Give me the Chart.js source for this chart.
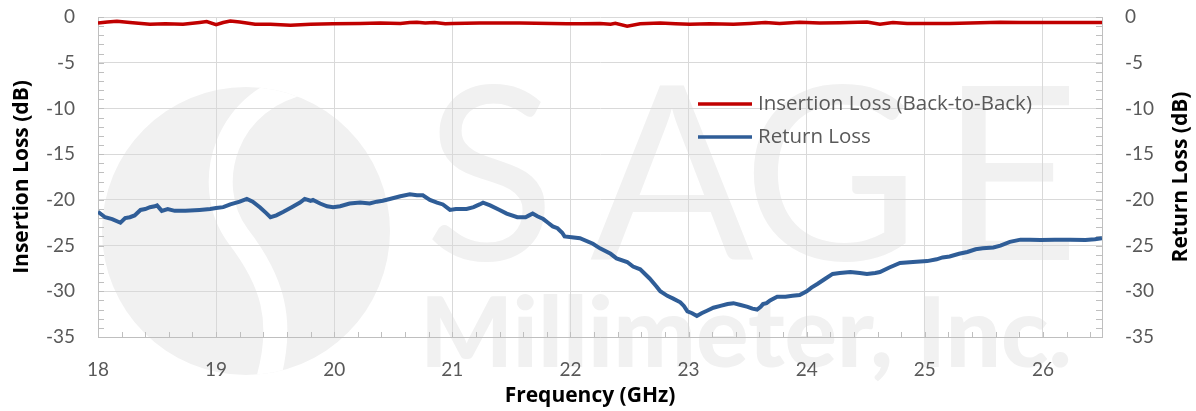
<!DOCTYPE html>
<html>
<head>
<meta charset="utf-8">
<script src="https://cdn.jsdelivr.net/npm/chart.js@4.4.1/dist/chart.umd.min.js"></script>
<style>
html,body{margin:0;padding:0;background:#fff;}
canvas{display:block;}
</style>
</head>
<body>
<canvas id="c" width="1196" height="411"></canvas>
<script>
// ---- data ----
const xTicks = [18, 19, 20, 21, 22, 23, 24, 25, 26];
const yTicks = [0, -5, -10, -15, -20, -25, -30, -35];
const seriesNames = ["Insertion Loss (Back-to-Back)", "Return Loss"];

const ilFreq = [18.00,18.08,18.16,18.27,18.44,18.57,18.72,18.86,18.92,19.00,19.06,19.12,19.20,19.33,19.46,19.63,19.80,19.99,20.22,20.39,20.56,20.64,20.70,20.77,20.85,20.94,21.00,21.23,21.57,21.97,22.10,22.25,22.34,22.38,22.48,22.59,22.76,22.89,23.01,23.18,23.38,23.52,23.65,23.77,23.94,24.11,24.28,24.51,24.62,24.73,24.85,25.00,25.21,25.47,25.64,25.81,26.15,26.50];
const ilVals = [-0.65,-0.55,-0.47,-0.6,-0.8,-0.75,-0.8,-0.6,-0.5,-0.83,-0.6,-0.44,-0.55,-0.8,-0.8,-0.9,-0.8,-0.73,-0.7,-0.66,-0.7,-0.6,-0.58,-0.65,-0.6,-0.75,-0.7,-0.66,-0.66,-0.73,-0.75,-0.7,-0.8,-0.7,-1.0,-0.75,-0.66,-0.75,-0.8,-0.75,-0.78,-0.7,-0.6,-0.72,-0.58,-0.66,-0.62,-0.55,-0.8,-0.6,-0.72,-0.7,-0.72,-0.62,-0.58,-0.6,-0.6,-0.6];

const rlFreq = [18.00,18.06,18.12,18.19,18.23,18.27,18.31,18.36,18.40,18.44,18.48,18.50,18.52,18.54,18.59,18.65,18.74,18.86,18.95,19.00,19.06,19.12,19.20,19.26,19.31,19.37,19.42,19.46,19.51,19.57,19.64,19.71,19.75,19.80,19.82,19.88,19.94,19.99,20.05,20.13,20.22,20.30,20.36,20.41,20.47,20.56,20.64,20.70,20.75,20.81,20.87,20.92,20.98,21.03,21.08,21.12,21.18,21.23,21.26,21.32,21.40,21.46,21.55,21.62,21.65,21.68,21.72,21.77,21.81,21.85,21.89,21.93,21.95,22.01,22.08,22.19,22.25,22.34,22.39,22.48,22.53,22.59,22.67,22.73,22.76,22.82,22.87,22.93,22.96,22.99,23.03,23.07,23.11,23.16,23.21,23.27,23.33,23.38,23.44,23.50,23.54,23.58,23.61,23.63,23.66,23.69,23.75,23.82,23.88,23.94,24.00,24.04,24.09,24.16,24.22,24.28,24.37,24.45,24.51,24.58,24.62,24.70,24.79,24.90,25.02,25.10,25.15,25.21,25.29,25.36,25.43,25.49,25.58,25.64,25.72,25.81,25.89,25.98,26.10,26.23,26.36,26.44,26.50];
const rlVals = [-21.3,-21.9,-22.1,-22.5,-22.0,-21.9,-21.7,-21.1,-21.0,-20.8,-20.7,-20.6,-20.9,-21.2,-21.0,-21.2,-21.2,-21.1,-21.0,-20.9,-20.8,-20.5,-20.2,-19.9,-20.2,-20.8,-21.4,-21.9,-21.7,-21.3,-20.8,-20.3,-19.9,-20.1,-20.0,-20.4,-20.7,-20.8,-20.7,-20.4,-20.3,-20.4,-20.2,-20.1,-19.9,-19.6,-19.4,-19.5,-19.5,-20.0,-20.3,-20.5,-21.1,-21.0,-21.0,-21.0,-20.8,-20.5,-20.3,-20.6,-21.1,-21.5,-21.9,-21.9,-21.7,-21.5,-21.8,-22.1,-22.5,-22.9,-23.1,-23.6,-24.0,-24.1,-24.2,-24.8,-25.3,-25.9,-26.4,-26.8,-27.3,-27.6,-28.6,-29.5,-30.0,-30.5,-30.8,-31.2,-31.6,-32.2,-32.4,-32.7,-32.4,-32.1,-31.8,-31.6,-31.4,-31.3,-31.5,-31.7,-31.9,-32.0,-31.7,-31.4,-31.3,-31.0,-30.6,-30.6,-30.5,-30.4,-30.0,-29.6,-29.2,-28.6,-28.1,-28.0,-27.9,-28.0,-28.1,-28.0,-27.9,-27.4,-26.9,-26.8,-26.7,-26.5,-26.3,-26.2,-25.9,-25.7,-25.4,-25.3,-25.2,-25.0,-24.6,-24.35,-24.35,-24.4,-24.35,-24.35,-24.4,-24.3,-24.2];

// ---- helpers ----
function pairs(xs, ys) {
  const n = Math.min(xs.length, ys.length), out = [];
  for (let i = 0; i < n; i++) out.push({x: xs[i], y: ys[i]});
  return out;
}
const TXT = '#595959', GRID = '#d9d9d9', AXIS = '#bfbfbf';
const RED = '#c00000', BLUE = '#2f5d97';
const FONT = 'Lato, "Open Sans", "DejaVu Sans", sans-serif';
const TFONT = '"Open Sans", Lato, "DejaVu Sans", sans-serif';

// watermark (SAGE Millimeter logo), drawn behind everything
const watermark = {
  id: 'watermark',
  beforeDraw(chart) {
    const ctx = chart.ctx;
    ctx.save();
    const wm = '#f1f1f1';
    ctx.beginPath();
    ctx.arc(246, 231, 144, 0, Math.PI * 2);
    ctx.fillStyle = wm;
    ctx.fill();
    ctx.save();
    ctx.beginPath();
    ctx.arc(246, 231, 144, 0, Math.PI * 2);
    ctx.clip();
    ctx.strokeStyle = '#ffffff';
    ctx.lineWidth = 24;
    ctx.beginPath();
    ctx.moveTo(310, 82);
    ctx.bezierCurveTo(225, 95, 200, 185, 238, 236);
    ctx.bezierCurveTo(272, 280, 285, 320, 268, 380);
    ctx.stroke();
    ctx.restore();
    ctx.fillStyle = wm;
    ctx.textAlign = 'center';
    ctx.textBaseline = 'alphabetic';
    ctx.font = '400 242px Lato, "DejaVu Sans", sans-serif';
    const letters = ['S', 'A', 'G', 'E'], cx = [490, 672, 831, 1010];
    letters.forEach((l, i) => ctx.fillText(l, cx[i], 260));
    ctx.textAlign = 'left';
    ctx.font = '900 98px Lato, "DejaVu Sans", sans-serif';
    ctx.fillText('Millimeter, Inc.', 420, 367, 662);
    ctx.restore();
  }
};

// minor ticks on the axes
const minorTicks = {
  id: 'minorTicks',
  beforeDatasetsDraw(chart) {
    const {ctx, chartArea: a, scales} = chart;
    ctx.save();
    ctx.strokeStyle = AXIS;
    ctx.lineWidth = 1;
    ctx.beginPath();
    for (let v = -35; v <= 0; v++) {
      const y = Math.round(scales.y.getPixelForValue(v)) + 0.5;
      ctx.moveTo(a.left, y); ctx.lineTo(a.left + 6, y);
      ctx.moveTo(a.right, y); ctx.lineTo(a.right - 6, y);
    }
    for (let k = 0; k <= 42; k++) {
      const v = 18 + k * 0.2;
      const x = Math.round(scales.x.getPixelForValue(v)) + 0.5;
      ctx.moveTo(x, a.bottom); ctx.lineTo(x, a.bottom - 5);
    }
    ctx.stroke();
    ctx.restore();
  }
};

// legend inside the plot + axis titles
const overlay = {
  id: 'overlay',
  afterDraw(chart) {
    const ctx = chart.ctx, a = chart.chartArea;
    ctx.save();
    const rows = [[seriesNames[0], RED, 104], [seriesNames[1], BLUE, 137]];
    ctx.font = '20.5px ' + TFONT;
    ctx.textAlign = 'left';
    ctx.textBaseline = 'middle';
    rows.forEach(([t, c, y]) => {
      ctx.strokeStyle = c; ctx.lineWidth = 3.5; ctx.lineCap = 'butt';
      ctx.beginPath(); ctx.moveTo(698, y); ctx.lineTo(752, y); ctx.stroke();
      ctx.fillStyle = TXT;
      ctx.fillText(t, 758, y);
    });
    ctx.fillStyle = '#000';
    ctx.font = 'bold 21px ' + TFONT;
    ctx.textAlign = 'center';
    ctx.textBaseline = 'middle';
    const cy = (a.top + a.bottom) / 2;
    ctx.save(); ctx.translate(22, cy); ctx.rotate(-Math.PI / 2);
    ctx.fillText('Insertion Loss (dB)', 0, 0); ctx.restore();
    ctx.save(); ctx.translate(1181, cy); ctx.rotate(-Math.PI / 2);
    ctx.fillText('Return Loss (dB)', 0, 0); ctx.restore();
    ctx.fillText('Frequency (GHz)', 590, 396);
    ctx.restore();
  }
};

const yCommon = {
  type: 'linear', min: -35, max: 0,
  afterBuildTicks: ax => { ax.ticks = yTicks.map(v => ({value: v})); },
  ticks: {color: TXT, font: {family: FONT, size: 19}, padding: 23}
};

new Chart(document.getElementById('c'), {
  type: 'line',
  data: {
    datasets: [
      {label: seriesNames[0], data: pairs(ilFreq, ilVals), borderColor: RED, borderWidth: 3.5,
       pointRadius: 0, tension: 0, yAxisID: 'y', order: 2},
      {label: seriesNames[1], data: pairs(rlFreq, rlVals), borderColor: BLUE, borderWidth: 4,
       pointRadius: 0, tension: 0, yAxisID: 'y', order: 1}
    ]
  },
  options: {
    responsive: false,
    animation: false,
    layout: {padding: {top: 17, left: 0, right: 0, bottom: 0}},
    plugins: {legend: {display: false}, tooltip: {enabled: false}},
    scales: {
      x: {
        type: 'linear', min: 18, max: 26.5,
        afterBuildTicks: ax => { ax.ticks = xTicks.map(v => ({value: v})); },
        afterFit: ax => { ax.height = 74; ax.paddingLeft = 0; ax.paddingRight = 0; },
        grid: {color: GRID, lineWidth: 1, drawTicks: false},
        border: {display: true, color: AXIS, width: 1},
        ticks: {color: TXT, font: {family: FONT, size: 19}, padding: 21, maxRotation: 0}
      },
      y: Object.assign({}, yCommon, {
        position: 'left',
        afterFit: ax => { ax.width = 98; ax.paddingTop = 0; ax.paddingBottom = 0; },
        grid: {color: GRID, lineWidth: 1, drawTicks: false},
        border: {display: true, color: AXIS, width: 1}
      }),
      y2: Object.assign({}, yCommon, {
        position: 'right',
        afterFit: ax => { ax.width = 94; ax.paddingTop = 0; ax.paddingBottom = 0; },
        grid: {display: false, drawTicks: false},
        border: {display: true, color: AXIS, width: 1}
      })
    }
  },
  plugins: [watermark, minorTicks, overlay]
});
</script>
</body>
</html>
